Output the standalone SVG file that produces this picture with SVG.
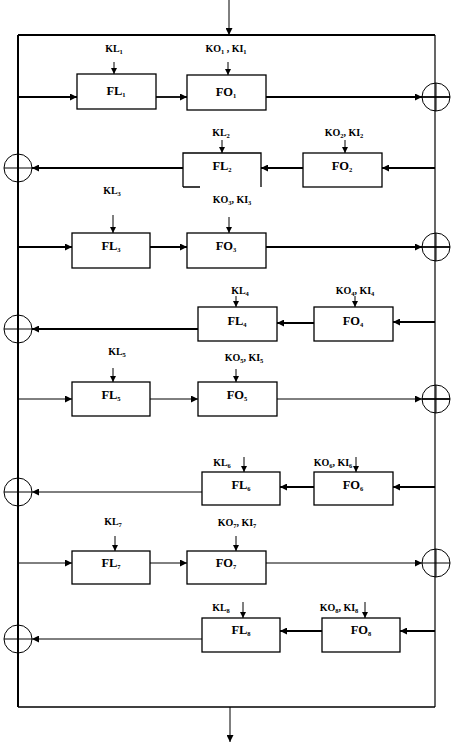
<svg xmlns="http://www.w3.org/2000/svg" width="457" height="746" viewBox="0 0 457 746">
<style>
.box{fill:#fff;stroke:#000;stroke-width:1.3}
.ln{fill:none;stroke:#000;stroke-width:1.8}
.tn{fill:none;stroke:#000;stroke-width:1}
.xo{fill:none;stroke:#000;stroke-width:1}
.lbl{font-family:"Liberation Serif",serif;font-weight:bold;font-size:12.5px;text-anchor:middle;fill:#000}
.key{font-family:"Liberation Serif",serif;font-weight:bold;font-size:10px;text-anchor:middle;fill:#000}
.sub{font-size:6.5px}
</style>
<defs>
<marker id="ah" viewBox="0 0 10 10" refX="10" refY="5" markerWidth="7" markerHeight="7" markerUnits="userSpaceOnUse" orient="auto">
<path d="M0,0 L10,5 L0,10 z" fill="#000"/>
</marker>
<marker id="ahs" viewBox="0 0 10 10" refX="10" refY="5" markerWidth="6" markerHeight="6" markerUnits="userSpaceOnUse" orient="auto">
<path d="M0,0 L10,5 L0,10 z" fill="#000"/>
</marker>
</defs>

<g id="frame">
<line x1="18" y1="35" x2="18" y2="707" stroke="#000" stroke-width="2"/>
<line x1="18" y1="35" x2="435" y2="35" stroke="#000" stroke-width="2"/>
<line x1="435" y1="35" x2="435" y2="707" stroke="#000" stroke-width="1.2"/>
<line x1="18" y1="707" x2="435" y2="707" stroke="#000" stroke-width="1.5"/>
</g>

<g id="connectors">
<line class="tn" x1="229" y1="0" x2="229" y2="35" marker-end="url(#ah)"/>
<line class="tn" x1="230" y1="707" x2="230" y2="742" marker-end="url(#ah)"/>
<!-- round 1 -->
<line class="ln" x1="18" y1="97" x2="77" y2="97" marker-end="url(#ah)"/>
<line class="ln" x1="156" y1="97" x2="187" y2="97" marker-end="url(#ah)"/>
<line class="ln" x1="266" y1="97" x2="422" y2="97" marker-end="url(#ah)"/>
<line class="tn" x1="114" y1="62" x2="114" y2="74" marker-end="url(#ahs)"/>
<line class="tn" x1="228" y1="62" x2="228" y2="75" marker-end="url(#ahs)"/>
<!-- round 2 -->
<line class="ln" x1="435" y1="168" x2="382" y2="168" marker-end="url(#ah)"/>
<line class="ln" x1="303" y1="168" x2="261" y2="168" marker-end="url(#ah)"/>
<line class="ln" x1="183" y1="168" x2="32" y2="168" marker-end="url(#ah)"/>
<line class="tn" x1="222" y1="140" x2="222" y2="153" marker-end="url(#ahs)"/>
<line class="tn" x1="345" y1="140" x2="345" y2="153" marker-end="url(#ahs)"/>
<!-- round 3 -->
<line class="ln" x1="18" y1="247" x2="72" y2="247" marker-end="url(#ah)"/>
<line class="ln" x1="150" y1="247" x2="187" y2="247" marker-end="url(#ah)"/>
<line class="ln" x1="266" y1="247" x2="422" y2="247" marker-end="url(#ah)"/>
<line class="tn" x1="113" y1="215" x2="113" y2="233" marker-end="url(#ahs)"/>
<line class="tn" x1="229" y1="217" x2="229" y2="233" marker-end="url(#ahs)"/>
<!-- round 4 -->
<line class="ln" x1="435" y1="322" x2="393" y2="322" marker-end="url(#ah)"/>
<line class="ln" x1="314" y1="323" x2="277" y2="323" marker-end="url(#ah)"/>
<line class="ln" x1="198" y1="329" x2="32" y2="329" marker-end="url(#ah)"/>
<line class="tn" x1="236" y1="296" x2="236" y2="307" marker-end="url(#ahs)"/>
<line class="tn" x1="355" y1="296" x2="355" y2="307" marker-end="url(#ahs)"/>
<!-- round 5 -->
<line class="tn" x1="18" y1="399" x2="72" y2="399" marker-end="url(#ah)"/>
<line class="tn" x1="150" y1="399" x2="198" y2="399" marker-end="url(#ah)"/>
<line class="tn" x1="277" y1="399" x2="422" y2="399" marker-end="url(#ah)"/>
<line class="tn" x1="113" y1="368" x2="113" y2="382" marker-end="url(#ahs)"/>
<line class="tn" x1="236" y1="369" x2="236" y2="382" marker-end="url(#ahs)"/>
<!-- round 6 -->
<line class="ln" x1="435" y1="487" x2="393" y2="487" marker-end="url(#ah)"/>
<line class="ln" x1="314" y1="487" x2="280" y2="487" marker-end="url(#ah)"/>
<line class="tn" x1="202" y1="492" x2="32" y2="492" marker-end="url(#ah)"/>
<line class="tn" x1="244" y1="457" x2="244" y2="472" marker-end="url(#ahs)"/>
<line class="tn" x1="356" y1="457" x2="356" y2="472" marker-end="url(#ahs)"/>
<!-- round 7 -->
<line class="tn" x1="18" y1="563" x2="72" y2="563" marker-end="url(#ah)"/>
<line class="tn" x1="150" y1="563" x2="187" y2="563" marker-end="url(#ah)"/>
<line class="tn" x1="266" y1="563" x2="422" y2="563" marker-end="url(#ah)"/>
<line class="tn" x1="115" y1="536" x2="115" y2="551" marker-end="url(#ahs)"/>
<line class="tn" x1="236" y1="536" x2="236" y2="551" marker-end="url(#ahs)"/>
<!-- round 8 -->
<line class="ln" x1="435" y1="631" x2="400" y2="631" marker-end="url(#ah)"/>
<line class="ln" x1="322" y1="631" x2="280" y2="631" marker-end="url(#ah)"/>
<line class="tn" x1="202" y1="639" x2="32" y2="639" marker-end="url(#ah)"/>
<line class="tn" x1="243" y1="602" x2="243" y2="618" marker-end="url(#ahs)"/>
<line class="tn" x1="365" y1="602" x2="365" y2="618" marker-end="url(#ahs)"/>
</g>

<g id="xor-r1"><circle class="xo" cx="436" cy="97" r="14"/><line class="ln" x1="422" y1="97" x2="450" y2="97"/><line class="xo" x1="436" y1="83" x2="436" y2="111"/></g>
<g id="xor-l2"><circle class="xo" cx="18" cy="168" r="14"/><line class="xo" x1="4" y1="168" x2="32" y2="168"/><line class="xo" x1="18" y1="154" x2="18" y2="182"/></g>
<g id="xor-r3"><circle class="xo" cx="436" cy="247" r="14"/><line class="ln" x1="422" y1="247" x2="450" y2="247"/><line class="xo" x1="436" y1="233" x2="436" y2="261"/></g>
<g id="xor-l4"><circle class="xo" cx="18" cy="329" r="14"/><line class="xo" x1="4" y1="329" x2="32" y2="329"/><line class="xo" x1="18" y1="315" x2="18" y2="343"/></g>
<g id="xor-r5"><circle class="xo" cx="436" cy="399" r="14"/><line class="ln" x1="422" y1="399" x2="450" y2="399"/><line class="xo" x1="436" y1="385" x2="436" y2="413"/></g>
<g id="xor-l6"><circle class="xo" cx="18" cy="492" r="14"/><line class="xo" x1="4" y1="492" x2="32" y2="492"/><line class="xo" x1="18" y1="478" x2="18" y2="506"/></g>
<g id="xor-r7"><circle class="xo" cx="436" cy="563" r="14"/><line class="xo" x1="422" y1="563" x2="450" y2="563"/><line class="xo" x1="436" y1="549" x2="436" y2="577"/></g>
<g id="xor-l8"><circle class="xo" cx="18" cy="639" r="14"/><line class="xo" x1="4" y1="639" x2="32" y2="639"/><line class="xo" x1="18" y1="625" x2="18" y2="653"/></g>

<g id="FL1"><rect class="box" x="77" y="74" width="79" height="35"/><text class="lbl" x="116" y="95">FL<tspan class="sub" dy="2">1</tspan></text></g>
<g id="FO1"><rect class="box" x="187" y="75" width="79" height="35"/><text class="lbl" x="226" y="96">FO<tspan class="sub" dy="2">1</tspan></text></g>
<g id="FL2"><path d="M183,187 V153 H261 V187 M183,187 H200" fill="#fff" stroke="#000" stroke-width="1.3"/><text class="lbl" x="222" y="170">FL<tspan class="sub" dy="2">2</tspan></text></g>
<g id="FO2"><rect class="box" x="303" y="153" width="79" height="34"/><text class="lbl" x="342" y="170">FO<tspan class="sub" dy="2">2</tspan></text></g>
<g id="FL3"><rect class="box" x="72" y="233" width="78" height="35"/><text class="lbl" x="111" y="250">FL<tspan class="sub" dy="2">3</tspan></text></g>
<g id="FO3"><rect class="box" x="187" y="233" width="79" height="35"/><text class="lbl" x="226" y="250">FO<tspan class="sub" dy="2">3</tspan></text></g>
<g id="FL4"><rect class="box" x="198" y="307" width="79" height="34"/><text class="lbl" x="237" y="325">FL<tspan class="sub" dy="2">4</tspan></text></g>
<g id="FO4"><rect class="box" x="314" y="307" width="79" height="34"/><text class="lbl" x="353" y="325">FO<tspan class="sub" dy="2">4</tspan></text></g>
<g id="FL5"><rect class="box" x="72" y="382" width="78" height="34"/><text class="lbl" x="111" y="399">FL<tspan class="sub" dy="2">5</tspan></text></g>
<g id="FO5"><rect class="box" x="198" y="382" width="79" height="34"/><text class="lbl" x="237" y="399">FO<tspan class="sub" dy="2">5</tspan></text></g>
<g id="FL6"><rect class="box" x="202" y="472" width="78" height="33"/><text class="lbl" x="241" y="489">FL<tspan class="sub" dy="2">6</tspan></text></g>
<g id="FO6"><rect class="box" x="314" y="472" width="79" height="33"/><text class="lbl" x="353" y="489">FO<tspan class="sub" dy="2">6</tspan></text></g>
<g id="FL7"><rect class="box" x="72" y="551" width="78" height="33"/><text class="lbl" x="111" y="567">FL<tspan class="sub" dy="2">7</tspan></text></g>
<g id="FO7"><rect class="box" x="187" y="551" width="79" height="33"/><text class="lbl" x="226" y="567">FO<tspan class="sub" dy="2">7</tspan></text></g>
<g id="FL8"><rect class="box" x="202" y="618" width="78" height="34"/><text class="lbl" x="241" y="634">FL<tspan class="sub" dy="2">8</tspan></text></g>
<g id="FO8"><rect class="box" x="322" y="618" width="78" height="34"/><text class="lbl" x="361" y="634">FO<tspan class="sub" dy="2">8</tspan></text></g>

<g id="keys">
<text class="key" x="114" y="52">KL<tspan class="sub" dy="2">1</tspan></text>
<text class="key" x="226" y="52">KO<tspan class="sub" dy="2">1</tspan><tspan dy="-2"> , KI</tspan><tspan class="sub" dy="2">1</tspan></text>
<text class="key" x="221" y="136">KL<tspan class="sub" dy="2">2</tspan></text>
<text class="key" x="344" y="136">KO<tspan class="sub" dy="2">2</tspan><tspan dy="-2">, KI</tspan><tspan class="sub" dy="2">2</tspan></text>
<text class="key" x="112" y="194">KL<tspan class="sub" dy="2">3</tspan></text>
<text class="key" x="232" y="203">KO<tspan class="sub" dy="2">3</tspan><tspan dy="-2">, KI</tspan><tspan class="sub" dy="2">3</tspan></text>
<text class="key" x="240" y="294">KL<tspan class="sub" dy="2">4</tspan></text>
<text class="key" x="355" y="294">KO<tspan class="sub" dy="2">4</tspan><tspan dy="-2">, KI</tspan><tspan class="sub" dy="2">4</tspan></text>
<text class="key" x="117" y="355">KL<tspan class="sub" dy="2">5</tspan></text>
<text class="key" x="244" y="361">KO<tspan class="sub" dy="2">5</tspan><tspan dy="-2">, KI</tspan><tspan class="sub" dy="2">5</tspan></text>
<text class="key" x="222" y="466">KL<tspan class="sub" dy="2">6</tspan></text>
<text class="key" x="333" y="466">KO<tspan class="sub" dy="2">6</tspan><tspan dy="-2">, KI</tspan><tspan class="sub" dy="2">6</tspan></text>
<text class="key" x="113" y="525">KL<tspan class="sub" dy="2">7</tspan></text>
<text class="key" x="237" y="526">KO<tspan class="sub" dy="2">7</tspan><tspan dy="-2">, KI</tspan><tspan class="sub" dy="2">7</tspan></text>
<text class="key" x="221" y="611">KL<tspan class="sub" dy="2">8</tspan></text>
<text class="key" x="339" y="611">KO<tspan class="sub" dy="2">8</tspan><tspan dy="-2">, KI</tspan><tspan class="sub" dy="2">8</tspan></text>
</g>
</svg>
